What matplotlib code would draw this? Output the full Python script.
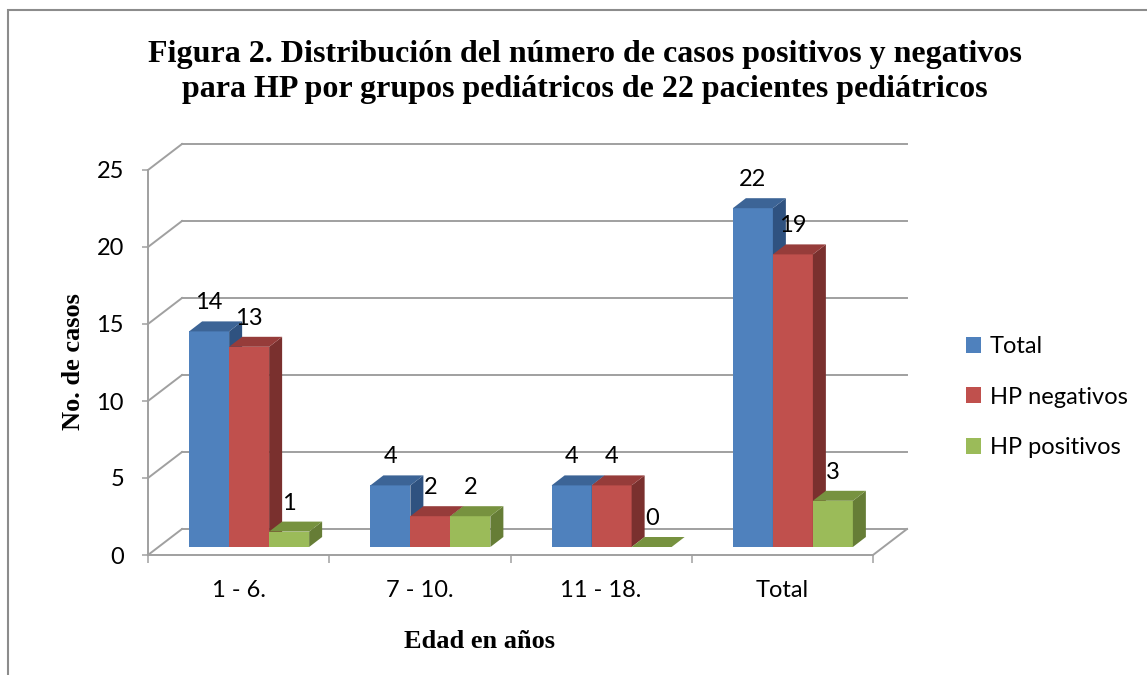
import matplotlib
matplotlib.use('Agg')
import matplotlib.pyplot as plt
from matplotlib.patches import Polygon, Rectangle

grupos = ['1 - 6.', '7 - 10.', '11 - 18.', 'Total']
series = ['Total', 'HP negativos', 'HP positivos']
total = [14, 4, 4, 22]
hp_neg = [13, 2, 4, 19]
hp_pos = [1, 2, 0, 3]
valores = [total, hp_neg, hp_pos]

frente = ['#4F81BD', '#C0504D', '#9BBB59']
arriba = ['#3C6496', '#963C3A', '#77923F']
lado = ['#2F5280', '#7A302E', '#667D36']

W, H = 1147, 675
fig = plt.figure(figsize=(W / 100, H / 100), dpi=100)
fig.patch.set_facecolor('white')

# axes box in pixels
ax_l, ax_b, ax_w, ax_h = 148, 120, 725, 385
ax = fig.add_axes([ax_l / W, ax_b / H, ax_w / W, ax_h / H])
ax.set_xlim(-0.5, 3.5)
ax.set_ylim(0, 25)
for s in ax.spines.values():
    s.set_visible(False)

ux = ax_w / 4.0   # px per category
uy = ax_h / 25.0  # px per unit

gris = '#A0A0A0'
lw = 1.4
fs = 17

# back wall / floor
wx, wy = 34 / ux, 26 / uy
for v in range(0, 30, 5):
    ax.plot([-0.5 + wx, 3.5 + wx], [v + wy, v + wy], color=gris, lw=lw, clip_on=False, zorder=1)
    ax.plot([-0.5, -0.5 + wx], [v, v + wy], color=gris, lw=lw, clip_on=False, zorder=1)
ax.plot([3.5, 3.5 + wx], [0, wy], color=gris, lw=lw, clip_on=False, zorder=1)
ax.plot([-0.5, -0.5], [0, 25], color=gris, lw=lw, clip_on=False, zorder=2)
ax.plot([-0.5, 3.5], [0, 0], color=gris, lw=lw, clip_on=False, zorder=2)

# bars with a fake 3D look
bw = 40 / ux
bx, by = 10.5 / ux, 8 / uy
dx, dy = 13 / ux, 10 / uy
handles = []
for i in range(len(grupos)):
    for j in range(len(series)):
        v = valores[j][i]
        c = i + (j - 1) * bw + bx
        x0, x1 = c - bw / 2, c + bw / 2
        y0, y1 = by, by + v
        r = ax.bar(c, v, width=bw, bottom=by, color=frente[j], zorder=3 + i * 3 + j)
        if i == 0:
            handles.append(r)
        ax.add_patch(Polygon([(x1, y0), (x1 + dx, y0 + dy), (x1 + dx, y1 + dy), (x1, y1)],
                             closed=True, facecolor=lado[j], edgecolor='none',
                             zorder=3 + i * 3 + j, clip_on=False))
        ax.add_patch(Polygon([(x0, y1), (x0 + dx, y1 + dy), (x1 + dx, y1 + dy), (x1, y1)],
                             closed=True, facecolor=arriba[j], edgecolor='none',
                             zorder=3 + i * 3 + j, clip_on=False))
        ax.text(c, y1 + 18 / uy, str(v), ha='center', va='bottom', fontsize=fs,
                family='Lato', zorder=20)

# ticks
ax.set_yticks(range(0, 30, 5))
ax.tick_params(axis='y', length=4.3, width=1.1, color=gris, pad=13, labelsize=fs)
ax.set_xticks([-0.5, 0.5, 1.5, 2.5, 3.5])
ax.set_xticklabels([])
ax.tick_params(axis='x', which='major', length=5.8, width=1.1, color=gris)
ax.set_xticks(range(4), minor=True)
ax.set_xticklabels(grupos, minor=True)
ax.tick_params(axis='x', which='minor', length=0, pad=18, labelsize=fs)
for t in ax.get_xticklabels(minor=True) + ax.get_yticklabels():
    t.set_family('Lato')

ax.legend(handles=handles, labels=series, loc='center left',
          bbox_to_anchor=(966 / W, 1 - 397 / H),
          bbox_transform=fig.transFigure, frameon=False, prop={'family': 'Lato', 'size': fs},
          handlelength=0.65, handleheight=0.65, handletextpad=0.35, labelspacing=1.25,
          borderaxespad=0, borderpad=0)

fig.text(585 / W, 1 - 72 / H,
         'Figura 2. Distribución del número de casos positivos y negativos\n'
         'para HP por grupos pediátricos de 22 pacientes pediátricos',
         ha='center', va='center', fontsize=23, fontweight='bold',
         family='Liberation Serif', linespacing=1.26)
fig.text(73 / W, 1 - 362 / H, 'No. de casos', rotation=90, ha='center', va='center',
         fontsize=19, fontweight='bold', family='Liberation Serif')
fig.text(480 / W, 1 - 642 / H, 'Edad en años', ha='center', va='center',
         fontsize=19, fontweight='bold', family='Liberation Serif')

# outer frame
fig.patches.append(Rectangle((8 / W, -0.1), 1.2, 1 - 10 / H + 0.1, transform=fig.transFigure,
                             fill=False, edgecolor='#8C8C8C', lw=1.5))

fig.savefig('out.png', dpi=100)
